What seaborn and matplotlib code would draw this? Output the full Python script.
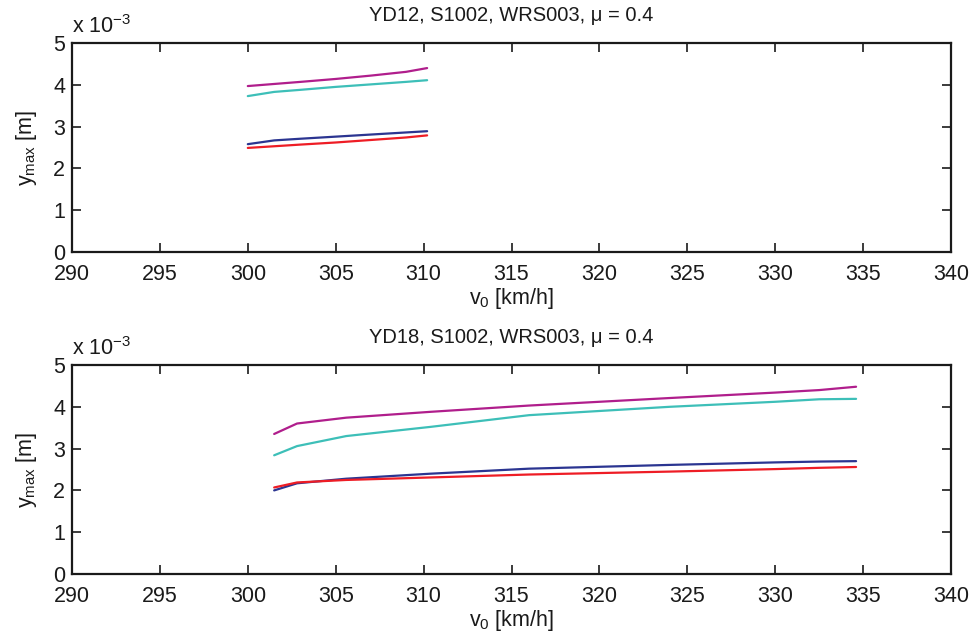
import numpy as np
import pandas as pd
import matplotlib
matplotlib.use("Agg")
import matplotlib.pyplot as plt
import matplotlib.transforms as mtransforms
import seaborn as sns

# Top panel (YD12), values in units of 1e-3 m
v_top = [300.0, 301.5, 303.0, 305.0, 307.0, 309.0, 310.2]
top_magenta = [3.97, 4.02, 4.07, 4.14, 4.22, 4.31, 4.40]
top_cyan = [3.73, 3.83, 3.88, 3.95, 4.01, 4.07, 4.11]
top_blue = [2.58, 2.67, 2.71, 2.76, 2.81, 2.86, 2.89]
top_red = [2.49, 2.53, 2.57, 2.62, 2.68, 2.74, 2.79]

# Bottom panel (YD18)
v_bot = [301.5, 302.8, 305.6, 310.4, 316.0, 324.0, 330.0, 332.5, 334.6]
bot_magenta = [3.35, 3.60, 3.74, 3.88, 4.03, 4.21, 4.34, 4.40, 4.48]
bot_cyan = [2.84, 3.06, 3.30, 3.52, 3.80, 4.00, 4.12, 4.18, 4.19]
bot_blue = [2.00, 2.17, 2.28, 2.40, 2.52, 2.61, 2.67, 2.69, 2.70]
bot_red = [2.07, 2.19, 2.25, 2.31, 2.38, 2.45, 2.51, 2.54, 2.56]

titles = ["YD12, S1002, WRS003, \u03bc = 0.4", "YD18, S1002, WRS003, \u03bc = 0.4"]
series_names = ["magenta", "cyan", "blue", "red"]
colors = {"magenta": "#B01E8C", "cyan": "#3DBFB8", "blue": "#2B3591", "red": "#EE1D25"}
xticks = [290, 295, 300, 305, 310, 315, 320, 325, 330, 335, 340]
yticks = [0, 1, 2, 3, 4, 5]


def make_df(v, series):
    rows = []
    for name, vals in zip(series_names, series):
        for x, y in zip(v, vals):
            rows.append({"v0": x, "ymax": y, "series": name})
    return pd.DataFrame(rows)


df_top = make_df(v_top, [top_magenta, top_cyan, top_blue, top_red])
df_bot = make_df(v_bot, [bot_magenta, bot_cyan, bot_blue, bot_red])

sns.set_theme(style="white")
plt.rcParams["font.family"] = ["Liberation Sans", "DejaVu Sans"]
plt.rcParams["mathtext.fontset"] = "custom"
plt.rcParams["mathtext.rm"] = "Liberation Sans"
plt.rcParams["mathtext.it"] = "Liberation Sans"

TXT = "#1a1a1a"
FS = 15.5

fig = plt.figure(figsize=(9.73, 6.38), dpi=100)
ax1 = fig.add_axes([0.074, 0.605, 0.9034, 0.3276])
ax2 = fig.add_axes([0.074, 0.1003, 0.9034, 0.3276])

for ax, df, title in [(ax1, df_top, titles[0]), (ax2, df_bot, titles[1])]:
    sns.lineplot(data=df, x="v0", y="ymax", hue="series", palette=colors,
                 estimator=None, sort=False, linewidth=1.6, legend=False, ax=ax)
    ax.set_xlim(290, 340)
    ax.set_ylim(0, 5)
    ax.set_xticks(xticks)
    ax.set_yticks(yticks)
    ax.tick_params(axis="both", direction="in", length=6.5, width=1.2,
                   labelsize=FS, top=True, right=True, bottom=True, left=True,
                   colors=TXT)
    ax.tick_params(axis="x", pad=8.5)
    ax.tick_params(axis="y", pad=5)
    for s in ax.spines.values():
        s.set_visible(True)
        s.set_linewidth(1.6)
        s.set_color(TXT)
    ax.set_title(title, fontsize=14.5, pad=16, color=TXT)
    ax.set_xlabel("v$_0$ [km/h]", fontsize=FS, labelpad=1, color=TXT)
    ax.set_ylabel("y$_{max}$ [m]", fontsize=FS, labelpad=10, color=TXT)
    off = mtransforms.ScaledTranslation(0, 10 / 100, fig.dpi_scale_trans)
    ax.text(0.0, 1.0, "x 10$^{-3}$", transform=ax.transAxes + off, fontsize=FS,
            ha="left", va="baseline", color=TXT)

fig.savefig("out.png", dpi=100)
